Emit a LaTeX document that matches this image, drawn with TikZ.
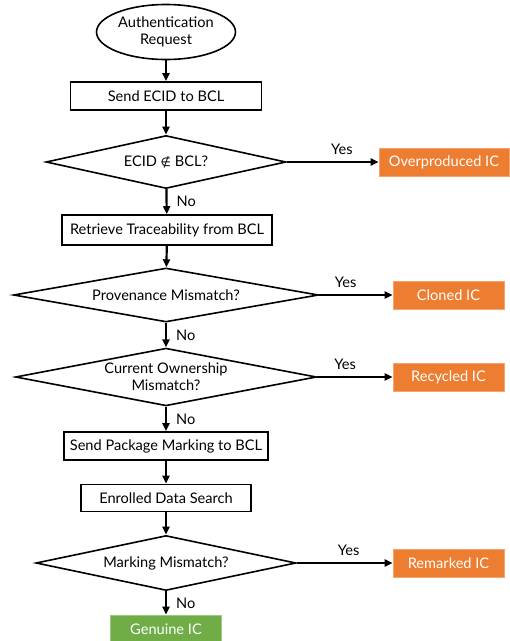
\documentclass[tikz,border=0pt]{standalone}
\usepackage{fontspec}
\setmainfont{Lato}
\newfontfamily\symbolfont{DejaVu Sans}
\usetikzlibrary{shapes.geometric,arrows.meta}
\definecolor{resorange}{HTML}{ED7D31}
\definecolor{resorangeedge}{HTML}{F4A46E}
\definecolor{resgreen}{HTML}{70AD47}
\definecolor{resgreenedge}{HTML}{9BC87E}

\begin{document}
\begin{tikzpicture}[x=1pt,y=-1pt,
  txt/.style={font=\fontsize{14.6}{17}\selectfont},
  base/.style={txt, draw=black, line width=1.6pt, inner sep=1pt, align=center, fill=white},
  procbox/.style={base, rectangle, minimum height=28pt},
  decision/.style={base, diamond, aspect=4.5},
  terminal/.style={base, ellipse},
  result/.style={txt, rectangle, fill=resorange, draw=resorangeedge, line width=0.6pt,
                 text=white, minimum width=111pt, minimum height=28pt, inner sep=1pt},
  flow/.style={-{Triangle[length=8pt,width=7pt]}, line width=2.2pt},
  lab/.style={txt, inner sep=0pt}
]
\useasboundingbox (0,0) rectangle (510,641);

% main column
\node[terminal, minimum width=139pt, minimum height=55pt] (start) at (166,32) {Authentication\\Request};
\node[procbox, minimum width=191pt] (sendecid) at (166,96) {Send ECID to BCL};
\node[decision, minimum width=240pt, minimum height=53pt] (d1) at (166,162) {ECID {\symbolfont\fontsize{12}{14}\selectfont ∉} BCL?};
\node[procbox, minimum width=210pt, minimum height=30pt] (trace) at (167,230) {Retrieve Traceability from BCL};
\node[decision, minimum width=305pt, minimum height=54pt] (d2) at (166,295) {Provenance Mismatch?};
\node[decision, minimum width=301pt, minimum height=55pt] (d3) at (166,377) {Current Ownership\\Mismatch?};
\node[procbox, minimum width=204pt] (sendpkg) at (166,446) {Send Package Marking to BCL};
\node[procbox, minimum width=170pt, minimum height=27pt] (enrolled) at (166,498) {Enrolled Data Search};
\node[decision, minimum width=260pt, minimum height=55pt] (d4) at (166,563) {Marking Mismatch?};
\node[result, fill=resgreen, draw=resgreenedge] (genuine) at (166,629) {Genuine IC};

% outcomes
\node[result, minimum width=130pt] (overprod) at (444,162) {Overproduced IC};
\node[result] (cloned) at (448.5,295) {Cloned IC};
\node[result] (recycled) at (448.5,377) {Recycled IC};
\node[result] (remarked) at (448.5,563) {Remarked IC};

% vertical flow
\draw[flow] (start) -- (sendecid);
\draw[flow] (sendecid) -- (d1);
\draw[flow] (d1) -- node[lab, right=9pt] {No} (trace);
\draw[flow] (trace) -- (d2);
\draw[flow] (d2) -- node[lab, right=9pt] {No} (d3);
\draw[flow] (d3) -- node[lab, right=9pt] {No} (sendpkg);
\draw[flow] (sendpkg) -- (enrolled);
\draw[flow] (enrolled) -- (d4);
\draw[flow] (d4) -- node[lab, right=9pt] {No} (genuine);

% yes branches
\draw[flow] (d1.east) -- node[lab, pos=0.6, above=6pt] {Yes} (overprod);
\draw[flow] (d2.east) -- node[lab, pos=0.36, above=6pt] {Yes} (cloned);
\draw[flow] (d3.east) -- node[lab, pos=0.37, above=6pt] {Yes} (recycled);
\draw[flow] (d4.east) -- node[lab, pos=0.54, above=6pt] {Yes} (remarked);
\end{tikzpicture}
\end{document}
